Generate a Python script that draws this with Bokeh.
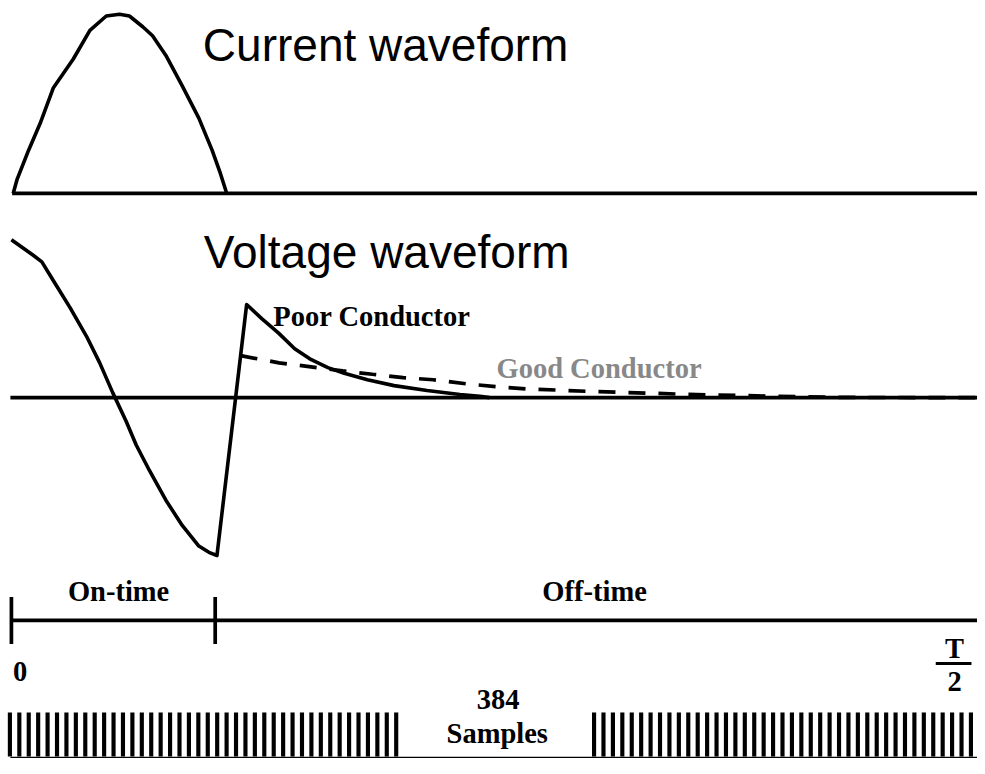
import numpy as np
from bokeh.plotting import figure
from bokeh.models import Range1d, ColumnDataSource
from bokeh.core.properties import value
from bokeh.embed import file_html
from bokeh.resources import INLINE

# ---------------- data (time axis in samples: 0 .. 384 = T/2) ----------------
TOTAL_SAMPLES = 384
ON_TIME_END = 81

# current waveform (normalised amplitude, peak = 1)
current_t = [0.7, 2.3, 6.8, 11.4, 16.7, 24.6, 31.2, 37.7, 43.0, 46.9, 52.2,
             56.1, 61.4, 67.9, 74.5, 79.8, 83.1, 85.6]
current_amp = [0.0, 0.08, 0.24, 0.39, 0.59, 0.75, 0.91, 0.99, 1.0, 0.99, 0.93,
               0.88, 0.77, 0.60, 0.42, 0.24, 0.11, 0.0]

# voltage waveform during the on-time (normalised, minimum = -1)
voltage_on_t = [0.0, 8.8, 12.1, 16.7, 23.3, 29.8, 35.1, 40.3, 45.6, 49.6,
                54.8, 61.4, 67.9, 74.5, 78.5, 81.7]
voltage_on_v = [1.0, 0.90, 0.86, 0.74, 0.57, 0.39, 0.22, 0.03, -0.15, -0.30,
                -0.46, -0.65, -0.81, -0.94, -0.98, -1.0]

# off-time response: poor conductor (solid)
poor_t = [81.7, 93.5, 99.5, 106.1, 112.6, 119.2, 125.8, 132.3, 141.5, 152.1,
          165.2, 178.3, 186.2, 190.0]
poor_v = [-1.0, 0.59, 0.50, 0.41, 0.31, 0.24, 0.19, 0.154, 0.113, 0.076,
          0.045, 0.020, 0.009, 0.0]

# off-time response: good conductor (dashed)
good_t = [91.1, 106.4, 119.1, 131.7, 143.5, 155.7, 167.6, 181.0, 193.2, 205.0,
          216.8, 228.7, 241.7, 253.9, 265.7, 277.9, 290.6, 302.4, 315.0, 330.8,
          384.0]
good_v = [0.266, 0.220, 0.195, 0.169, 0.148, 0.127, 0.113, 0.087, 0.069, 0.055,
          0.048, 0.040, 0.034, 0.028, 0.022, 0.017, 0.014, 0.009, 0.005, 0.001,
          0.0]

# sample marks (gap in the middle for the "384 Samples" label)
sample_marks_left = list(range(0, 42))
sample_marks_right = list(range(62, 103))

# ---------------- layout constants ----------------
CUR_BASE, CUR_SCALE = 197, 183
V_BASE, V_SCALE = 405.5, 161.2
TIMELINE_Y, TICK_HALF = 633, 24
BAR_TOP, BAR_BOT, BAR_BASE = 727, 772, 773
MARK_OFFSET, MARK_STEP, MARK_WIDTH = -0.6, 3.745, 1.65

SERIF = value("Liberation Serif")
SANS = value("Liberation Sans")

p = figure(width=977, height=758,
           x_range=Range1d(-4.337, TOTAL_SAMPLES),
           y_range=Range1d(774, 0),
           x_axis_type=None, y_axis_type=None,
           output_backend="svg", toolbar_location=None,
           min_border=0, background_fill_color="white",
           border_fill_color="white")
p.grid.visible = False
p.outline_line_color = None

LW = 3.6

# current waveform
p.line([0.3, TOTAL_SAMPLES], [CUR_BASE, CUR_BASE], line_color="black", line_width=3.7)
p.line(current_t, [CUR_BASE - CUR_SCALE * a for a in current_amp],
       line_color="black", line_width=LW, line_join="round")

# voltage waveform
p.line([-0.4, TOTAL_SAMPLES], [V_BASE, V_BASE], line_color="black", line_width=3.7)
p.line(voltage_on_t + poor_t[1:],
       [V_BASE - V_SCALE * v for v in voltage_on_v + poor_v[1:]],
       line_color="black", line_width=LW, line_join="round")
p.line(good_t, [V_BASE - V_SCALE * v for v in good_v],
       line_color="black", line_width=3.7, line_dash="17 13")

# timeline
p.line([0, TOTAL_SAMPLES], [TIMELINE_Y, TIMELINE_Y], line_color="black", line_width=3.7)
p.segment(x0=[0, ON_TIME_END], x1=[0, ON_TIME_END],
          y0=[TIMELINE_Y - TICK_HALF] * 2, y1=[TIMELINE_Y + TICK_HALF] * 2,
          line_color="black", line_width=3.7)

# fraction bar of T/2
p.segment(x0=[367.4], x1=[381.6], y0=[677], y1=[677],
          line_color="black", line_width=3)

# sample marks
marks = [MARK_OFFSET + i * MARK_STEP for i in sample_marks_left + sample_marks_right]
p.vbar(x=marks, width=MARK_WIDTH, top=BAR_TOP, bottom=BAR_BOT,
       fill_color="black", line_color=None)
p.line([-0.4, TOTAL_SAMPLES], [BAR_BASE, BAR_BASE], line_color="black", line_width=1.6)


def label(x, y, txt, font, size, style="normal", color="black", align="left"):
    src = ColumnDataSource(dict(x=[x], y=[y], t=[txt]))
    p.text(x="x", y="y", text="t", source=src, text_font=font,
           text_font_size=size, text_font_style=style, text_color=color,
           text_align=align, text_baseline="middle")


label(76.1, 45, "Current waveform", SANS, "46px")
label(76.5, 257, "Voltage waveform", SANS, "46px")
label(104.1, 322.5, "Poor Conductor", SERIF, "28.5px", "bold")
label(192.8, 376, "Good Conductor", SERIF, "28.5px", "bold", "#888888")
label(42.6, 603, "On-time", SERIF, "28.5px", "bold", align="center")
label(231.8, 603, "Off-time", SERIF, "28.5px", "bold", align="center")
label(3.5, 685, "0", SERIF, "28.5px", "bold", align="center")
label(374.9, 662, "T", SERIF, "28.5px", "bold", align="center")
label(374.9, 695, "2", SERIF, "28.5px", "bold", align="center")
label(193.5, 714, "384", SERIF, "28.5px", "bold", align="center")
label(193.1, 748, "Samples", SERIF, "28.5px", "bold", align="center")

open("out.html", "w").write(file_html(p, INLINE))
